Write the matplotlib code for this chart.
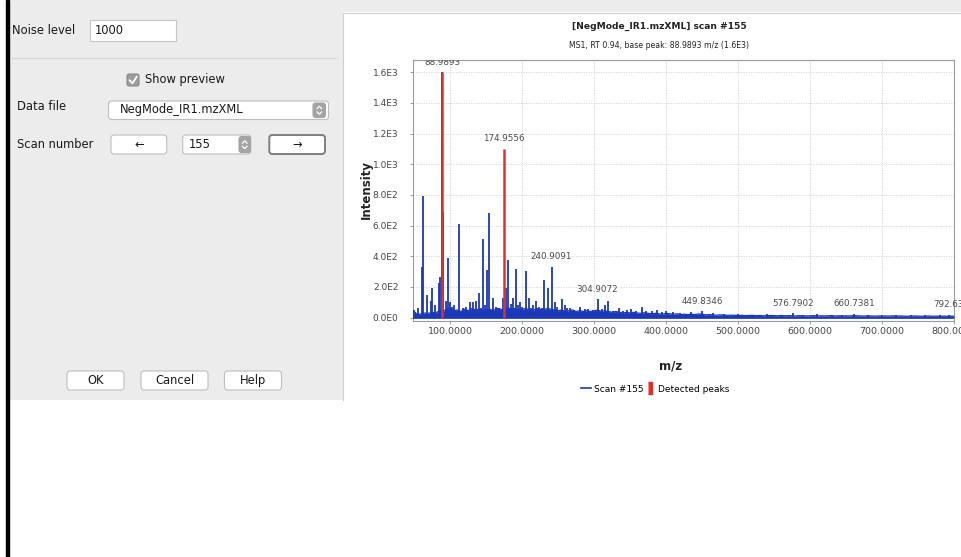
import numpy as np
import matplotlib
matplotlib.use("Agg")
import matplotlib.pyplot as plt
from matplotlib.patches import Rectangle, FancyBboxPatch
from matplotlib.lines import Line2D
import matplotlib.transforms as mtransforms

# ---------------- data ----------------
title = "[NegMode_IR1.mzXML] scan #155"
subtitle = "MS1, RT 0.94, base peak: 88.9893 m/z (1.6E3)"

# prominent profile peaks of the scan (m/z, intensity)
peak_mz = [50, 56, 60.5, 63, 68.5, 73, 75, 79, 84, 86, 90.7, 94, 97.7, 100, 103, 106,
           113, 118, 122, 127, 132, 136, 140.7, 143, 146.3, 149, 151.8, 154.6, 159, 164,
           168, 173, 177.8, 181, 185, 188, 191, 194, 197, 200, 205, 209.7, 213, 215, 219,
           223, 227, 231, 236.5, 241, 246, 249, 255, 259, 263, 267, 272, 280.5, 287, 292,
           298, 305, 311, 315, 320, 326, 334, 340, 346, 352, 358, 366, 372, 380, 387, 395,
           400, 410, 420, 435, 450, 465, 480, 500, 520, 540, 560, 577, 590, 610, 630, 645,
           661, 680, 700, 720, 740, 760, 780, 793]
peak_int = [50, 60, 330, 795, 150, 110, 190, 80, 225, 265, 690, 110, 390, 100, 70, 80,
            612, 60, 70, 100, 100, 110, 158, 60, 510, 80, 313, 680, 130, 70,
            60, 130, 190, 377, 90, 130, 318, 80, 100, 70, 307, 130, 60, 80, 110,
            70, 60, 245, 190, 333, 100, 70, 120, 80, 60, 60, 50, 70, 55, 55,
            50, 120, 55, 80, 110, 45, 65, 45, 50, 55, 45, 70, 45, 40, 50, 35,
            40, 35, 30, 35, 42, 30, 25, 25, 20, 22, 18, 28, 20, 22, 18, 20,
            26, 20, 18, 16, 18, 15, 14, 20]

# low-level noise floor, sampled every 5 m/z from 50 to 800
floor_start, floor_step = 50, 5
floor_int = [40, 18, 25, 30, 28, 35, 30, 45, 40, 55,
             60, 45, 50, 40, 55, 45, 60, 50, 55, 45,
             50, 55, 45, 60, 55, 50, 65, 55, 60, 50,
             55, 60, 50, 45, 60, 55, 50, 60, 55, 50,
             45, 50, 40, 45, 50, 40, 45, 40, 45, 40,
             45, 50, 40, 45, 40, 35, 40, 35, 30, 35,
             30, 35, 30, 28, 32, 28, 25, 28, 25, 22,
             28, 25, 22, 25, 20, 22, 20, 22, 20, 24,
             22, 18, 20, 18, 16, 18, 17, 15, 16, 15,
             14, 15, 13, 14, 15, 13, 14, 12, 13, 14,
             13, 12, 14, 12, 13, 12, 11, 13, 12, 11,
             12, 13, 11, 12, 11, 12, 13, 11, 12, 11,
             12, 11, 13, 12, 11, 10, 12, 11, 10, 11,
             10, 11, 10, 12, 10, 11, 10, 9, 10, 11,
             10, 9, 10, 11, 9, 10, 9, 10, 9, 10, 9]

# peaks above the noise level (detected)
det_mz = [88.9893, 174.9556]
det_int = [1600, 1100]
base_peak_mz, base_peak_int = 88.9893, 1600

# annotated peak labels
label_mz = [88.9893, 174.9556, 240.9091, 304.9072, 449.8346, 576.7902, 660.7381, 792.63]
label_int = [1600, 1100, 333, 120, 42, 28, 26, 20]
label_txt = ["88.9893", "174.9556", "240.9091", "304.9072", "449.8346", "576.7902",
             "660.7381", "792.63"]

x_ticks = [100, 200, 300, 400, 500, 600, 700, 800]
x_ticklabels = ["100.0000", "200.0000", "300.0000", "400.0000", "500.0000",
                "600.0000", "700.0000", "800.0000"]
y_ticks = [0, 200, 400, 600, 800, 1000, 1200, 1400, 1600]
y_ticklabels = ["0.0E0", "2.0E2", "4.0E2", "6.0E2", "8.0E2", "1.0E3", "1.2E3",
                "1.4E3", "1.6E3"]

noise_level = "1000"
data_file = "NegMode_IR1.mzXML"
scan_number = "155"

# ---------------- figure ----------------
W, H = 962, 557
fig = plt.figure(figsize=(W / 100, H / 100), dpi=100)
fig.patch.set_facecolor("white")
FONT = "DejaVu Sans"

bg = fig.add_axes([0, 0, 1, 1])
bg.set_xlim(0, W)
bg.set_ylim(H, 0)
bg.axis("off")

# left black border
bg.add_patch(Rectangle((6.5, 0), 3, H, color="black", zorder=5))
# dialog panel
bg.add_patch(Rectangle((9.5, 0), 333.5, 400, facecolor="#ececec", edgecolor="none"))
# top strip over chart
bg.add_patch(Rectangle((343, 0), W - 343, 12, facecolor="#ececec", edgecolor="none"))
bg.plot([343, W], [12.5, 12.5], color="#cfcfcf", lw=0.8)
bg.plot([343.5, 343.5], [12.5, 400], color="#cfcfcf", lw=0.8)

def box(x0, y0, x1, y1, fc="white", ec="#bdbdbd", lw=0.8, r=3):
    bg.add_patch(FancyBboxPatch((x0, y0), x1 - x0, y1 - y0,
                                boxstyle=f"round,pad=0,rounding_size={r}",
                                facecolor=fc, edgecolor=ec, lw=lw))

lab = dict(fontsize=8.3, family=FONT, color="#1a1a1a", va="center")
# Noise level
bg.text(12.5, 30, "Noise level", ha="left", **lab)
bg.add_patch(Rectangle((90.5, 19.5), 86, 21, facecolor="white", edgecolor="#c4c4c4", lw=0.8))
bg.text(95, 30, noise_level, ha="left", **lab)
bg.plot([12.5, 336.5], [57.5, 57.5], color="#d6d6d6", lw=0.8)
# Show preview
box(127, 74, 139, 86, fc="#9c9c9c", ec="#8a8a8a", r=2)
bg.plot([129.5, 132.5, 136.8], [80.2, 83.3, 76.5], color="white", lw=1.3, solid_capstyle="round")
bg.text(145, 80, "Show preview", ha="left", **lab)
# Data file
bg.text(17, 106, "Data file", ha="left", **lab)
box(108.5, 101, 328.5, 119.5)
bg.text(120, 110, data_file, ha="left", **lab)
box(313, 103, 325.5, 117.5, fc="#a4a4a4", ec="#a4a4a4", r=2.5)
bg.plot([317, 319.3, 321.6], [108.6, 106.3, 108.6], color="white", lw=0.9)
bg.plot([317, 319.3, 321.6], [111.9, 114.2, 111.9], color="white", lw=0.9)
# Scan number
bg.text(17, 144, "Scan number", ha="left", **lab)
box(111, 135, 166.7, 154)
bg.text(139, 144, "\u2190", ha="center", **lab)
box(182.7, 135, 250.7, 154)
bg.text(200, 144.5, scan_number, ha="center", **lab)
box(239, 136.5, 250.5, 152.5, fc="#a4a4a4", ec="#a4a4a4", r=2.5)
bg.plot([242.4, 244.7, 247], [143.2, 140.9, 143.2], color="white", lw=0.9)
bg.plot([242.4, 244.7, 247], [146.3, 148.6, 146.3], color="white", lw=0.9)
box(269.3, 135, 325, 154, ec="#7e7e7e", lw=1.4)
bg.text(297, 144, "\u2192", ha="center", **lab)
# bottom buttons
for (x0, x1, t) in [(67, 124, "OK"), (141, 208, "Cancel"), (224.5, 281.5, "Help")]:
    box(x0, 371, x1, 390)
    bg.text((x0 + x1) / 2, 380.5, t, ha="center", **lab)

# ---------------- chart ----------------
ax_l, ax_r, ax_t, ax_b = 413, 954, 60, 321
ax = fig.add_axes([ax_l / W, 1 - ax_b / H, (ax_r - ax_l) / W, (ax_b - ax_t) / H])
ax.set_facecolor("white")
ax.set_xlim(48.5, 800)
ax.set_ylim(-22, 1680)

blue = "#1b38b8"
red = "#e0302c"
floor_mz = floor_start + floor_step * np.arange(len(floor_int))
ax.fill_between(floor_mz, 0, floor_int, color=blue, lw=0, zorder=3)
ax.plot(floor_mz, floor_int, color=blue, lw=0.9, zorder=3)
ax.vlines(peak_mz, 0, peak_int, color=blue, lw=1.3, zorder=3)
ax.vlines([base_peak_mz - 0.9], 0, [base_peak_int], color=blue, lw=1.4, zorder=3)
ax.vlines(det_mz, 0, det_int, color=red, lw=1.8, zorder=4)
ax.plot([48.5, 800], [0, 0], color=blue, lw=1.2, zorder=3)

off = mtransforms.offset_copy(ax.transData, fig=fig, x=0, y=10, units="dots")
for m, v, t in zip(label_mz, label_int, label_txt):
    txt = ax.text(m, v, t, transform=off, ha="center", va="center", fontsize=6.3,
                  family=FONT, color="#4a4a4a", clip_on=False, zorder=5)
    if t == label_txt[0]:
        txt.set_clip_on(True)
        txt.set_clip_box(ax.bbox)

ax.set_xticks(x_ticks)
ax.set_xticklabels(x_ticklabels)
ax.set_yticks(y_ticks)
ax.set_yticklabels(y_ticklabels)
ax.tick_params(axis="both", labelsize=6.8, labelcolor="#444444", color="#888888",
               length=2.5, width=0.6)
ax.tick_params(axis="y", labelsize=6.5, pad=8)
ax.tick_params(axis="x", pad=2)
for lab_ in ax.get_xticklabels() + ax.get_yticklabels():
    lab_.set_family(FONT)
ax.grid(True, color="#d2d2d2", ls=(0, (1.5, 1.5)), lw=0.6, zorder=0)
for s in ax.spines.values():
    s.set_color("#9a9a9a")
    s.set_linewidth(0.8)

fig.text(366 / W, 1 - 190 / H, "Intensity", rotation=90, ha="center", va="center",
         fontsize=8.5, fontweight="bold", family=FONT, color="#222222")
fig.text(671 / W, 1 - 366 / H, "m/z", ha="center", va="center",
         fontsize=8.5, fontweight="bold", family=FONT, color="#222222")
fig.text(659 / W, 1 - 26 / H, title, ha="center", va="center",
         fontsize=6.6, fontweight="bold", family=FONT, color="#222222")
fig.text(659 / W, 1 - 45 / H, subtitle, ha="center", va="center",
         fontsize=5.6, family=FONT, color="#222222")

bar_marker = [(-0.3, -1), (0.3, -1), (0.3, 1), (-0.3, 1)]
handles = [Line2D([], [], color=blue, lw=1.2),
           Line2D([], [], lw=0, marker=bar_marker, markersize=8,
                  markerfacecolor=red, markeredgecolor=red)]
fig.legend(handles, ["Scan #155", "Detected peaks"], loc="center",
           bbox_to_anchor=(655 / W, 1 - 389 / H), ncol=2, frameon=False,
           prop={"family": FONT, "size": 6.5}, handlelength=1.1,
           handletextpad=0.3, columnspacing=0.2, borderaxespad=0)

fig.savefig("out.png", dpi=100, facecolor="white")
